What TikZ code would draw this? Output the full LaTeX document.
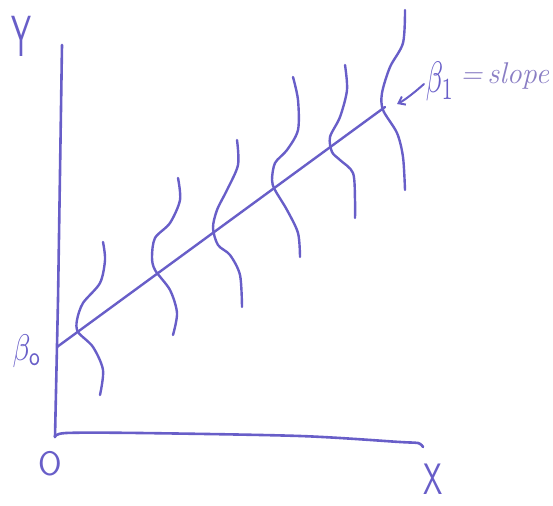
\documentclass[tikz,border=0pt]{standalone}
\usepackage{fontspec}
\usetikzlibrary{arrows.meta}
\definecolor{ink}{RGB}{104,94,200}
\definecolor{inklight}{RGB}{138,126,196}
\begin{document}
\begin{tikzpicture}[x=1pt,y=-1pt,line cap=round,line join=round,
  axis/.style={draw=ink,line width=2.6pt},
  wig/.style={draw=ink,line width=2.4pt},
  lbl/.style={text=ink,inner sep=0pt,outer sep=0pt}]
\useasboundingbox (0,0) rectangle (553,505);
% axes
\coordinate (ytop) at (62,45);
\coordinate (orig) at (55,437);
\coordinate (xend) at (423,447);
\draw[axis] (ytop) -- (58,300) -- (orig);
\draw[axis] plot[smooth,tension=0.5] coordinates {(55,437) (66,433) (140,433) (300,436) (400,442) (418,443) (423,447)};
% regression line
\coordinate (b0pt) at (57,347);
\coordinate (lineend) at (385,107);
\draw[axis,line width=2.4pt] (b0pt) -- (lineend);
% wiggly distributions
\draw[wig] plot[smooth] coordinates {(103,242) (105,260) (100,283) (83,303) (77,320) (78,332) (93,347) (103,370) (100,395)};
\draw[wig] plot[smooth] coordinates {(178,178) (180,200) (170,223) (155,238) (152,257) (155,270) (170,290) (177,313) (173,335)};
\draw[wig] plot[smooth] coordinates {(237,140) (238,165) (227,190) (217,210) (213,228) (218,245) (230,255) (240,275) (242,307)};
\draw[wig] plot[smooth] coordinates {(293,77) (298,100) (298,130) (287,150) (275,163) (272,180) (275,190) (287,210) (298,233) (300,257)};
\draw[wig] plot[smooth] coordinates {(345,65) (347,90) (340,117) (330,137) (332,152) (340,160) (353,173) (355,200) (355,218)};
\draw[wig] plot[smooth] coordinates {(405,10) (403,43) (390,67) (382,93) (383,110) (397,133) (403,157) (405,190)};
% labels
\node[lbl,font=\fontsize{58}{58}\sffamily,xscale=0.55] (ylab) at (21,36) {Y};
\node[lbl,xscale=2.9,yscale=3.7] (b0) at (27,351) {$\beta_{\mathsf{o}}$};
\node[lbl,font=\fontsize{34}{34}\sffamily] (olab) at (50,464) {O};
\node[lbl,font=\fontsize{44}{44}\sffamily,xscale=0.7] (xlab) at (433,479) {X};
\node[lbl,xscale=2.8,yscale=4.4] (b1) at (440,82) {$\beta_1$};
\node[lbl,text=inklight,font=\fontsize{30}{30}\selectfont\itshape,anchor=west] (eqs) at (460,76) {=\,slope};
\coordinate (tip) at (397,104);
\draw[wig,line width=2pt,-{Straight Barb[length=6pt,width=9pt]}] (424,84) .. controls (415,92) and (405,100) .. (tip);
\end{tikzpicture}
\end{document}
